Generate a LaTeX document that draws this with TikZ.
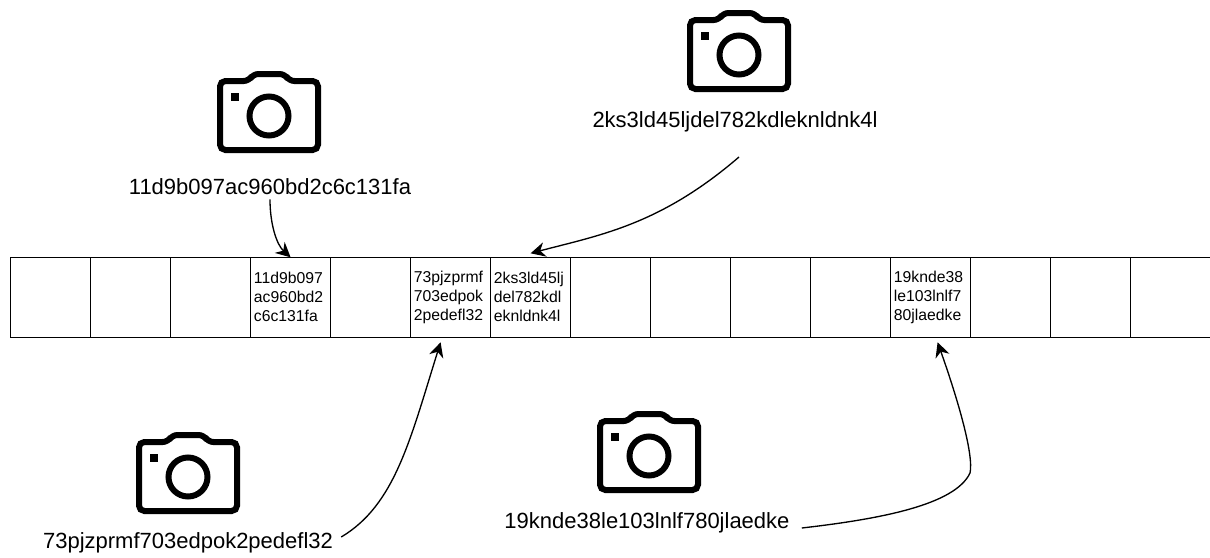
\documentclass[tikz,border=0pt]{standalone}
\usepackage{fontspec}
\setmainfont{Liberation Sans}
\usetikzlibrary{arrows.meta, positioning}

\begin{document}
\begin{tikzpicture}[
          x=0.75pt, y=-0.75pt,
          cell/.style={rectangle, draw=black, line width=1.1pt, outer sep=0pt, inner sep=0pt,
                       minimum width=60pt, minimum height=60pt, text width=55pt,
                       font=\fontsize{11.8}{14.3}\selectfont, align=left},
          hash/.style={inner sep=3pt, font=\fontsize{16.5}{19}\selectfont},
          arr/.style={-{Stealth[length=11pt, width=11pt]}, line width=1pt, draw=black},
          cam/.pic={
            \draw[line width=4.5pt, rounded corners=4pt] (-49,-35) -- (-20,-35) -- (-16,-42) -- (16,-42) -- (20,-35)
              -- (49,-35) -- (49,34) -- (-49,34) -- cycle;
            \draw[line width=4.5pt] (0,0) circle[radius=19.5];
            \fill (-38,-23) rectangle (-30,-15);
          }
        ]
        \useasboundingbox (0,0) rectangle (1210,557);
        \node[cell] (c1) at (50.6,297.3) {};
        \node[cell, right=0cm of c1] (c2) {};
        \node[cell, right=0cm of c2] (c3) {};
        \node[cell, right=0cm of c3] (c4) {11d9b097\\ac960bd2\\c6c131fa};
        \node[cell, right=0cm of c4] (c5) {};
        \node[cell, right=0cm of c5] (c6) {73pjzprmf\\703edpok\\2pedefl32};
        \node[cell, right=0cm of c6] (c7) {2ks3ld45lj\\del782kdl\\eknldnk4l};
        \node[cell, right=0cm of c7] (c8) {};
        \node[cell, right=0cm of c8] (c9) {};
        \node[cell, right=0cm of c9] (c10) {};
        \node[cell, right=0cm of c10] (c11) {};
        \node[cell, right=0cm of c11] (c12) {19knde38\\le103lnlf7\\80jlaedke};
        \node[cell, right=0cm of c12] (c13) {};
        \node[cell, right=0cm of c13] (c14) {};
        \node[cell, right=0cm of c14] (c15) {};
        \pic at (269,116) {cam};
        \pic at (739,55) {cam};
        \pic at (188,477) {cam};
        \pic at (649,456) {cam};
        \node[hash] (lbl1) at (270,187) {11d9b097ac960bd2c6c131fa};
        \node[hash] (lbl2) at (735,122) {2ks3ld45ljdel782kdleknldnk4l};
        \node[hash] (lbl3) at (188,543) {73pjzprmf703edpok2pedefl32};
        \node[hash] (lbl4) at (647,523) {19knde38le103lnlf780jlaedke};
        \coordinate (from2) at (739,157);
        \draw[arr] (lbl1.south) .. controls (270,225) and (277,245) .. (c4.north);
        \draw[arr] (from2) .. controls (660,225) and (600,235) .. ([yshift=3pt]c7.north);
        \draw[arr] ([shift={(4,-6)}]lbl3.east) .. controls (395,505) and (410,440) .. ([shift={(-10,5)}]c6.south);
        \draw[arr] ([shift={(8,5)}]lbl4.east) .. controls (880,519) and (955,505) .. (970,473)
          .. controls (974,455) and (958,400) .. ([shift={(7,5)}]c12.south);
      \end{tikzpicture}
\end{document}
